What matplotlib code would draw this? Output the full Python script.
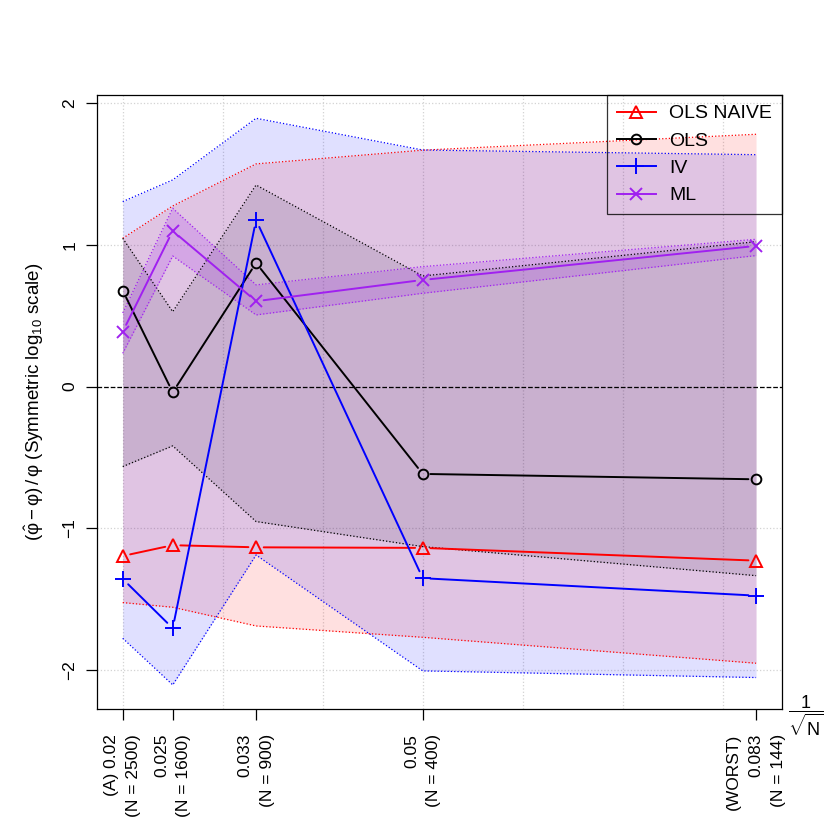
import numpy as np
import matplotlib.pyplot as plt
from matplotlib.lines import Line2D

plt.rcParams['font.family'] = ['Liberation Sans', 'DejaVu Sans']
plt.rcParams['mathtext.fontset'] = 'custom'
plt.rcParams['mathtext.rm'] = 'Liberation Sans'
plt.rcParams['mathtext.it'] = 'Liberation Sans'

# dati (x = 1/sqrt(N))
n_sizes = [2500, 1600, 900, 400, 144]
x = [1 / np.sqrt(n) for n in n_sizes]
x_labels = ['(A) 0.02\n(N = 2500)', '0.025\n(N = 1600)', '0.033\n(N = 900)',
            '0.05\n(N = 400)', '(WORST)\n0.083\n(N = 144)']

ols_naive = [-1.195, -1.119, -1.134, -1.138, -1.228]
ols_naive_hi = [1.047, 1.275, 1.572, 1.669, 1.781]
ols_naive_lo = [-1.524, -1.557, -1.689, -1.769, -1.952]

ols = [0.678, -0.04, 0.873, -0.616, -0.654]
ols_hi = [1.047, 0.529, 1.423, 0.781, 1.023]
ols_lo = [-0.564, -0.418, -0.952, -1.129, -1.334]

iv = [-1.357, -1.705, 1.176, -1.352, -1.475]
iv_hi = [1.306, 1.459, 1.894, 1.670, 1.637]
iv_lo = [-1.776, -2.105, -1.188, -2.006, -2.053]

ml = [0.388, 1.099, 0.603, 0.753, 0.993]
ml_hi = [0.52, 1.259, 0.718, 0.847, 1.040]
ml_lo = [0.235, 0.922, 0.506, 0.659, 0.925]

series = [
    ('OLS NAIVE', ols_naive, ols_naive_lo, ols_naive_hi, '#FF0000', '^', 0.12),
    ('OLS', ols, ols_lo, ols_hi, '#000000', 'o', 0.10),
    ('IV', iv, iv_lo, iv_hi, '#0000FF', '+', 0.12),
    ('ML', ml, ml_lo, ml_hi, '#A020F0', 'x', 0.18),
]
marker_size = {'^': 9, 'o': 7, '+': 11, 'x': 8}

fig = plt.figure(figsize=(8.3, 8.3), dpi=100)
ax = fig.add_axes([0.1169, 0.1458, 0.8253, 0.7397])

# griglia
for gx in np.arange(0.02, 0.0801, 0.01):
    ax.axvline(gx, color='lightgray', ls=':', lw=0.9, zorder=0)
for gy in range(-2, 3):
    ax.axhline(gy, color='lightgray', ls=':', lw=0.9, zorder=0)

# bande
for name, y, lo, hi, col, mk, a in series:
    ax.fill_between(x, lo, hi, color=col, alpha=a, lw=0, zorder=1)
    ax.plot(x, lo, color=col, ls=':', lw=0.9, zorder=2)
    ax.plot(x, hi, color=col, ls=':', lw=0.9, zorder=2)

ax.axhline(0, color='black', ls='--', lw=0.9, zorder=3)

# linee con spazi attorno ai marker (come type="b" di R)
handles = []
for name, y, lo, hi, col, mk, a in series:
    for i in range(len(x) - 1):
        ax.annotate('', xy=(x[i + 1], y[i + 1]), xytext=(x[i], y[i]),
                    arrowprops=dict(arrowstyle='-', color=col, lw=1.4,
                                    shrinkA=5.5, shrinkB=5.5), zorder=4)
    ax.plot(x, y, ls='none', marker=mk, ms=marker_size[mk], mfc='none',
            mec=col, mew=1.4, zorder=5)
    handles.append(Line2D([], [], color=col, lw=1.4, marker=mk,
                          ms=marker_size[mk], mfc='none', mec=col, mew=1.4,
                          label=name))

ax.set_xlim(0.01743, 0.08593)
ax.set_ylim(-2.275, 2.058)
ax.set_yticks([-2, -1, 0, 1, 2])
ax.set_yticklabels(['\u22122', '\u22121', '0', '1', '2'], rotation=90, va='center')
ax.set_xticks(x)
ax.set_xticklabels(x_labels, rotation=90, ha='center', va='top',
                   multialignment='right', linespacing=1.6)
ax.tick_params(axis='both', length=8, width=0.9, labelsize=12.5, direction='out')
ax.tick_params(axis='x', pad=10)
ax.tick_params(axis='y', pad=6)
for s in ax.spines.values():
    s.set_linewidth(0.9)

ax.set_ylabel(r'$(\hat{\varphi}-\varphi)\,/\,\varphi$ (Symmetric log$_{10}$ scale)',
              fontsize=13.5)
ax.yaxis.set_label_coords(-0.074, 0.5)

ax.text(1.035, -0.01, r'$\dfrac{1}{\sqrt{N}}$', transform=ax.transAxes,
        fontsize=13, ha='center', va='center')

leg = ax.legend(handles=handles, loc='upper right', borderaxespad=0,
                fancybox=False, edgecolor='black', fontsize=14,
                handlelength=2.0, borderpad=0.5, labelspacing=0.5,
                handletextpad=0.7)
leg.get_frame().set_facecolor('none')
leg.get_frame().set_linewidth(0.9)

plt.savefig('out.png', dpi=100)
